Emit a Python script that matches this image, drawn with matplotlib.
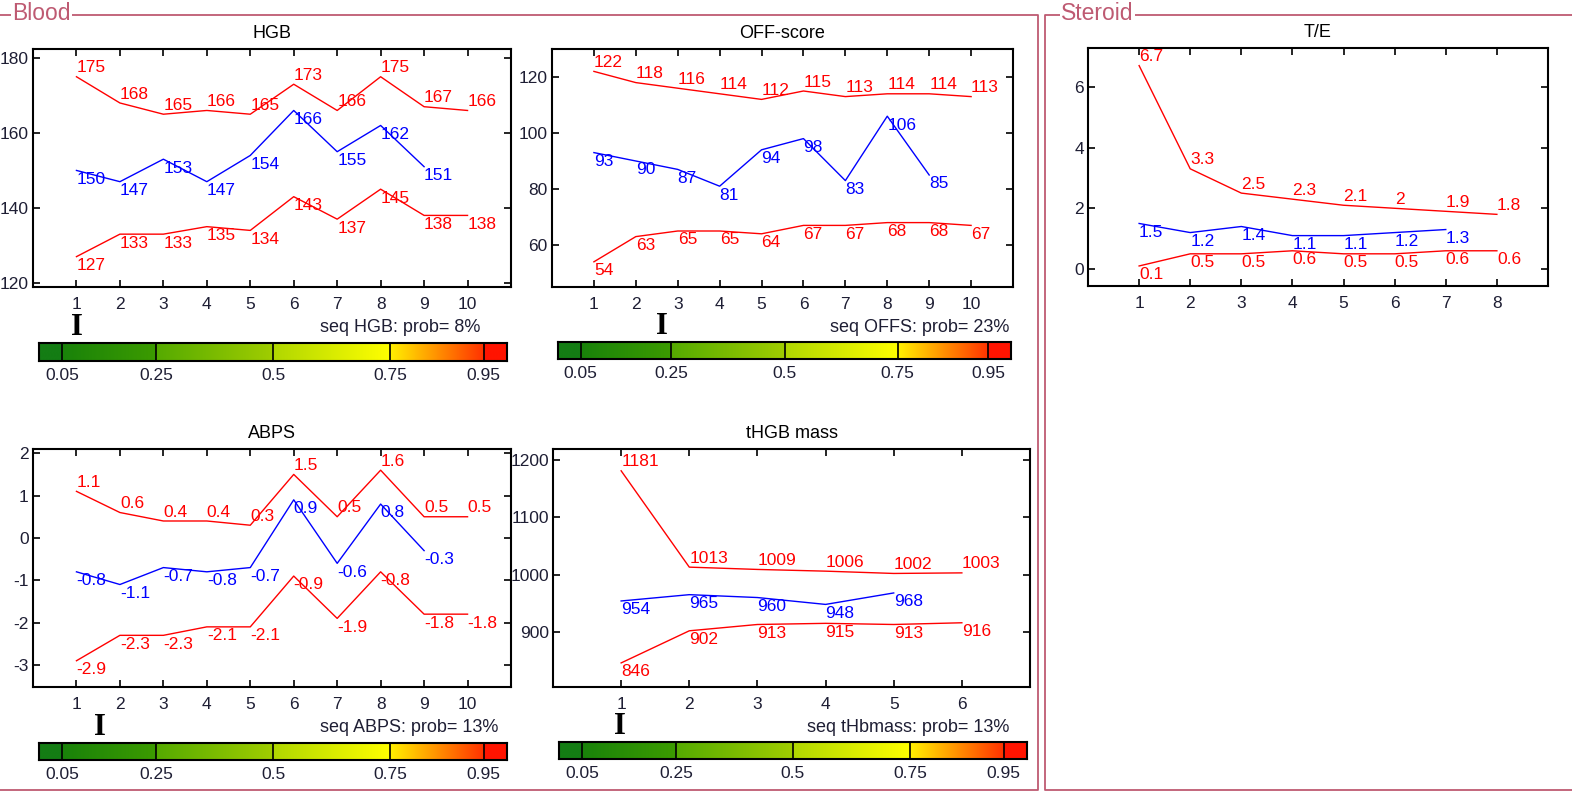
import matplotlib

matplotlib.use("Agg")

import numpy as np
from matplotlib import pyplot as plt
from matplotlib.colors import LinearSegmentedColormap
from matplotlib.lines import Line2D

plt.rcParams["font.family"] = ["Liberation Sans", "DejaVu Sans"]
plt.rcParams["axes.unicode_minus"] = False

W, H = 1572, 801

# ---- data ----
HGB_X = [1, 2, 3, 4, 5, 6, 7, 8, 9, 10]
HGB_UPPER = [175, 168, 165, 166, 165, 173, 166, 175, 167, 166]
HGB_MEAN = [150, 147, 153, 147, 154, 166, 155, 162, 151]
HGB_LOWER = [127, 133, 133, 135, 134, 143, 137, 145, 138, 138]
HGB_PROB = 8

OFFS_X = [1, 2, 3, 4, 5, 6, 7, 8, 9, 10]
OFFS_UPPER = [122, 118, 116, 114, 112, 115, 113, 114, 114, 113]
OFFS_MEAN = [93, 90, 87, 81, 94, 98, 83, 106, 85]
OFFS_LOWER = [54, 63, 65, 65, 64, 67, 67, 68, 68, 67]
OFFS_PROB = 23

ABPS_X = [1, 2, 3, 4, 5, 6, 7, 8, 9, 10]
ABPS_UPPER = [1.1, 0.6, 0.4, 0.4, 0.3, 1.5, 0.5, 1.6, 0.5, 0.5]
ABPS_MEAN = [-0.8, -1.1, -0.7, -0.8, -0.7, 0.9, -0.6, 0.8, -0.3]
ABPS_LOWER = [-2.9, -2.3, -2.3, -2.1, -2.1, -0.9, -1.9, -0.8, -1.8, -1.8]
ABPS_PROB = 13

THB_X = [1, 2, 3, 4, 5, 6]
THB_UPPER = [1181, 1013, 1009, 1006, 1002, 1003]
THB_MEAN = [954, 965, 960, 948, 968]
THB_LOWER = [846, 902, 913, 915, 913, 916]
THB_PROB = 13

TE_X = [1, 2, 3, 4, 5, 6, 7, 8]
TE_UPPER = [6.7, 3.3, 2.5, 2.3, 2.1, 2, 1.9, 1.8]
TE_MEAN = [1.5, 1.2, 1.4, 1.1, 1.1, 1.2, 1.3]
TE_LOWER = [0.1, 0.5, 0.5, 0.6, 0.5, 0.5, 0.6, 0.6]

CBAR_TICKS = [0.05, 0.25, 0.5, 0.75, 0.95]
CBAR_TICK_LABELS = ["0.05", "0.25", "0.5", "0.75", "0.95"]

FRAME_COLOR = "#be5a72"
TICK_COLOR = "#1e1e34"
RED = "#ff0000"
BLUE = "#0000ff"

# colour segments of the probability bar (start, end, colour start, colour end)
CBAR_SEGMENTS = [
    (0.00, 0.05, "#147d14", "#147d14"),
    (0.05, 0.25, "#19820a", "#3c9b00"),
    (0.25, 0.50, "#55aa00", "#a0cd00"),
    (0.50, 0.75, "#b0d700", "#ffff00"),
    (0.75, 0.95, "#fff000", "#ff3200"),
    (0.95, 1.00, "#ff1400", "#ff1400"),
]


def px_axes(fig, left, top, right, bottom):
    return fig.add_axes([left / W, 1 - bottom / H, (right - left) / W, (bottom - top) / H])


def draw_panel(fig, box, title, xs, upper, mean, lower, xlim, ylim, yticks):
    ax = px_axes(fig, *box)
    ax.plot(xs, upper, color=RED, linewidth=1.0)
    ax.plot(xs[: len(mean)], mean, color=BLUE, linewidth=1.0)
    ax.plot(xs, lower, color=RED, linewidth=1.0)
    for x, y in zip(xs, upper):
        ax.annotate(f"{y:g}", (x, y), xytext=(0, 1), textcoords="offset points",
                    ha="left", va="bottom", color=RED, fontsize=12.5)
    for x, y in zip(xs, mean):
        ax.annotate(f"{y:g}", (x, y), xytext=(0, -1), textcoords="offset points",
                    ha="left", va="top", color=BLUE, fontsize=12.5)
    for x, y in zip(xs, lower):
        ax.annotate(f"{y:g}", (x, y), xytext=(0, -1), textcoords="offset points",
                    ha="left", va="top", color=RED, fontsize=12.5)
    ax.set_xlim(*xlim)
    ax.set_ylim(*ylim)
    ax.set_xticks(xs)
    ax.set_yticks(yticks)
    ax.tick_params(direction="in", top=True, right=True, length=5, width=1.2,
                   labelsize=12.5, labelcolor=TICK_COLOR)
    ax.tick_params(axis="x", pad=7)
    ax.tick_params(axis="y", pad=3)
    for spine in ax.spines.values():
        spine.set_linewidth(1.5)
    ax.set_title(title, fontsize=13, pad=8)
    return ax


def draw_prob_bar(fig, box, prob, label, label_x, label_y):
    ax = px_axes(fig, *box)
    for x0, x1, c0, c1 in CBAR_SEGMENTS:
        cmap = LinearSegmentedColormap.from_list("seg", [c0, c1])
        ax.imshow(np.linspace(0, 1, 128)[None, :], cmap=cmap, extent=[x0, x1, 0, 1], aspect="auto")
    for tick in CBAR_TICKS:
        ax.axvline(tick, color="black", linewidth=1.2)
    ax.set_xlim(0, 1)
    ax.set_ylim(0, 1)
    ax.set_yticks([])
    ax.set_xticks(CBAR_TICKS)
    ax.set_xticklabels(CBAR_TICK_LABELS)
    ax.tick_params(axis="x", length=0, labelsize=12.5, labelcolor=TICK_COLOR, pad=5)
    for spine in ax.spines.values():
        spine.set_linewidth(1.5)
    # marker showing where the probability falls
    ax.text(prob / 100, 1.45, "I", transform=ax.transAxes, ha="center", va="baseline",
            fontsize=22, fontweight="bold", family=["Liberation Serif", "DejaVu Serif"])
    fig.text(label_x / W, 1 - label_y / H, label, ha="left", va="center", fontsize=13, color=TICK_COLOR)


def draw_frame(fig, corners, name, name_x, name_y):
    xs = [c[0] / W for c in corners]
    ys = [1 - c[1] / H for c in corners]
    fig.add_artist(Line2D(xs, ys, color=FRAME_COLOR, linewidth=1.3, transform=fig.transFigure))
    fig.text(name_x / W, 1 - name_y / H, name, ha="left", va="center", fontsize=16.5, color=FRAME_COLOR,
             bbox=dict(facecolor="white", edgecolor="none", pad=1.0))


def main():
    fig = plt.figure(figsize=(W / 100, H / 100), dpi=100)

    draw_frame(fig, [(0, 15), (1038, 15), (1038, 790), (0, 790)], "Blood", 12, 14)
    draw_frame(fig, [(1572, 15), (1045, 15), (1045, 790), (1572, 790)], "Steroid", 1061, 14)

    draw_panel(fig, (33, 49, 511, 287), "HGB", HGB_X, HGB_UPPER, HGB_MEAN, HGB_LOWER,
               (0, 11), (118.9, 182.4), [120, 140, 160, 180])
    draw_prob_bar(fig, (39, 343, 507, 361), HGB_PROB, "seq HGB: prob= 8%", 320, 328)

    draw_panel(fig, (552, 49, 1013, 287), "OFF-score", OFFS_X, OFFS_UPPER, OFFS_MEAN, OFFS_LOWER,
               (0, 11), (45, 130), [60, 80, 100, 120])
    draw_prob_bar(fig, (558, 342, 1011, 359), OFFS_PROB, "seq OFFS: prob= 23%", 830, 328)

    draw_panel(fig, (33, 449, 511, 687), "ABPS", ABPS_X, ABPS_UPPER, ABPS_MEAN, ABPS_LOWER,
               (0, 11), (-3.52, 2.1), [-3, -2, -1, 0, 1, 2])
    draw_prob_bar(fig, (39, 743, 507, 760), ABPS_PROB, "seq ABPS: prob= 13%", 320, 728)

    draw_panel(fig, (553, 449, 1030, 687), "tHGB mass", THB_X, THB_UPPER, THB_MEAN, THB_LOWER,
               (0, 7), (804, 1219), [900, 1000, 1100, 1200])
    draw_prob_bar(fig, (559, 742, 1027, 759), THB_PROB, "seq tHbmass: prob= 13%", 807, 727)

    draw_panel(fig, (1088, 48, 1548, 286), "T/E", TE_X, TE_UPPER, TE_MEAN, TE_LOWER,
               (0, 9), (-0.56, 7.28), [0, 2, 4, 6])

    fig.savefig("out.png", dpi=100)
    plt.close(fig)


if __name__ == "__main__":
    main()
